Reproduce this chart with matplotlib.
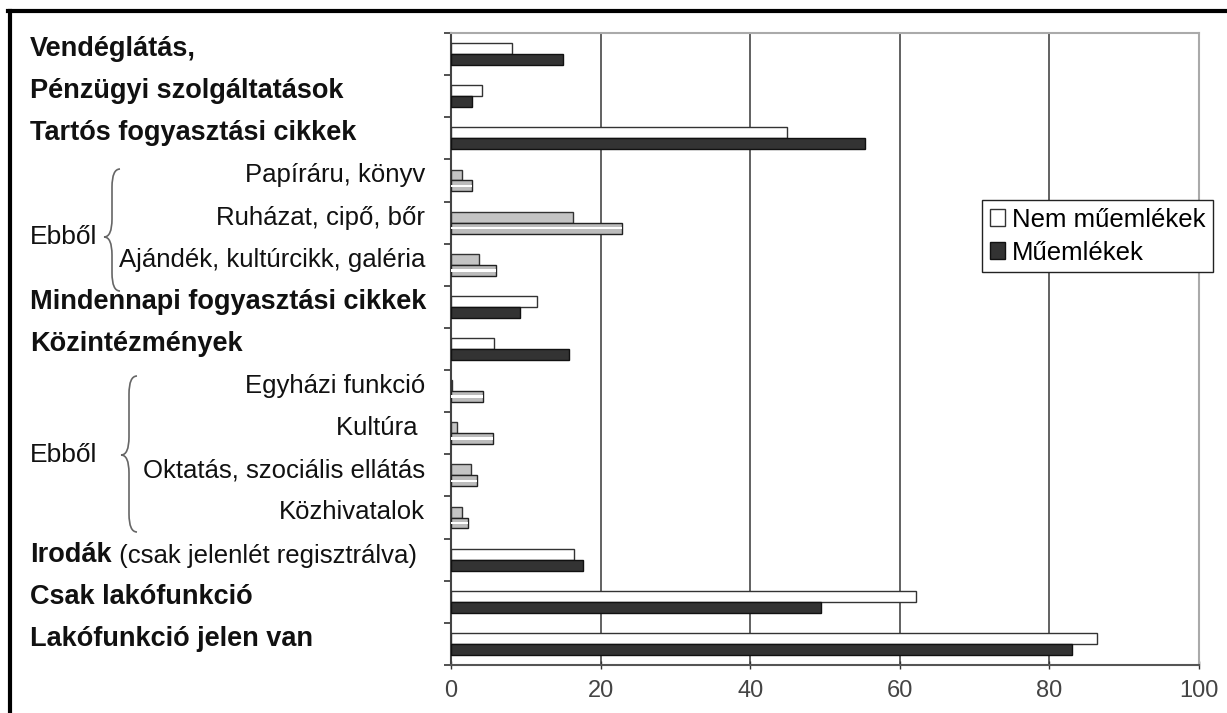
import numpy as np
import matplotlib
matplotlib.use('Agg')
from matplotlib import pyplot as plt
from matplotlib.path import Path
from matplotlib.patches import PathPatch, Patch
import matplotlib.transforms as mtransforms

plt.rcParams['font.family'] = ['Liberation Sans', 'DejaVu Sans']

# categories top to bottom
labels = ['Vendéglátás,', 'Pénzügyi szolgáltatások', 'Tartós fogyasztási cikkek',
          'Papíráru, könyv', 'Ruházat, cipő, bőr', 'Ajándék, kultúrcikk, galéria',
          'Mindennapi fogyasztási cikkek', 'Közintézmények',
          'Egyházi funkció', 'Kultúra ', 'Oktatás, szociális ellátás', 'Közhivatalok',
          'Irodák', 'Csak lakófunkció', 'Lakófunkció jelen van']
is_sub = [False, False, False, True, True, True, False, False,
          True, True, True, True, False, False, False]
nem_muemlek = [8.2, 4.1, 44.9, 1.5, 16.3, 3.7, 11.5, 5.7,
               0.2, 0.8, 2.7, 1.5, 16.4, 62.1, 86.3]
muemlek = [15.0, 2.8, 55.3, 2.8, 22.8, 6.0, 9.2, 15.8,
           4.3, 5.6, 3.5, 2.3, 17.6, 49.4, 83.0]
irodak_note = ' (csak jelenlét regisztrálva)'
brace_label = 'Ebből'
series_names = ['Nem műemlékek', 'Műemlékek']
xticks = [0, 20, 40, 60, 80, 100]

W, H = 1227, 713
fig = plt.figure(figsize=(W / 100, H / 100), dpi=100)
ax = fig.add_axes([451 / W, 1 - 665 / H, (1199 - 451) / W, (665 - 33) / H])

y = np.arange(len(labels))
h = 0.26
sub = np.array(is_sub)
main = ~sub
nem = np.array(nem_muemlek)
mu = np.array(muemlek)

# main categories
ax.barh(y[main] - h / 2, nem[main], h, color='white', edgecolor='#333333', lw=1, zorder=3)
ax.barh(y[main] + h / 2, mu[main], h, color='#333333', edgecolor='#111111', lw=1, zorder=3)
# "Ebből" sub categories
ax.barh(y[sub] - h / 2, nem[sub], h, color='#c4c4c4', edgecolor='#333333', lw=1, zorder=3)
ax.barh(y[sub] + h / 2, mu[sub], h, color='#bcbcbc', edgecolor='#222222', lw=1, zorder=3)
ax.barh(y[sub] + h / 2, mu[sub], h * 0.25, color='white', lw=0, zorder=4)

ax.set_xlim(0, 100)
ax.set_ylim(len(labels) - 0.5, -0.5)
ax.set_xticks(xticks)
ax.set_yticks(np.arange(len(labels) + 1) - 0.5)
ax.set_yticklabels([])
ax.tick_params(axis='y', direction='out', length=5, width=1.2, colors='#333333')
ax.tick_params(axis='x', direction='inout', length=6, width=1, colors='#333333',
               labelsize=17, labelcolor='#444444', pad=8)
for xv in xticks[1:-1]:
    ax.axvline(xv, color='#555555', lw=1.3, zorder=1)
ax.spines['left'].set_color('#444444')
ax.spines['bottom'].set_color('#555555')
ax.spines['top'].set_color('#aaaaaa')
ax.spines['right'].set_color('#aaaaaa')
for s in ax.spines.values():
    s.set_linewidth(1.5)

# category labels
trans = mtransforms.blended_transform_factory(fig.transFigure, ax.transData)
for i, lab in enumerate(labels):
    if is_sub[i]:
        fig.text(425 / W, i - 0.12, lab, transform=trans, ha='right', va='center',
                 fontsize=18.5, color='#111111')
    else:
        t = fig.text(30 / W, i - 0.12, lab, transform=trans, ha='left', va='center',
                     fontsize=19.5, fontweight='bold', color='#111111')
        if lab == 'Irodák':
            ax.annotate(irodak_note, xy=(1, 0), xycoords=t, ha='left', va='bottom',
                        fontsize=18.5, color='#111111', annotation_clip=False)


def brace(x_arm, x_mid, x_tip, y_top, y_tip, y_bot):
    r = 18
    pts = [(x_arm, y_top), (x_mid, y_top), (x_mid, y_top + r),
           (x_mid, y_tip - r), (x_mid, y_tip), (x_tip, y_tip),
           (x_mid, y_tip), (x_mid, y_tip + r),
           (x_mid, y_bot - r), (x_mid, y_bot), (x_arm, y_bot)]
    codes = [Path.MOVETO, Path.CURVE3, Path.CURVE3, Path.LINETO, Path.CURVE3, Path.CURVE3,
             Path.CURVE3, Path.CURVE3, Path.LINETO, Path.CURVE3, Path.CURVE3]
    pts = [(px / W, 1 - py / H) for px, py in pts]
    fig.add_artist(PathPatch(Path(pts, codes), transform=fig.transFigure,
                             fill=False, lw=1.2, edgecolor='#666666'))


brace(120, 112, 104, 169, 237, 291)
fig.text(30 / W, 1 - 237 / H, brace_label, ha='left', va='center', fontsize=19, color='#111111')
brace(137, 129, 121, 376, 455, 532)
fig.text(30 / W, 1 - 455 / H, brace_label, ha='left', va='center', fontsize=19, color='#111111')

handles = [Patch(facecolor='white', edgecolor='#333333'),
           Patch(facecolor='#333333', edgecolor='#111111')]
leg = fig.legend(handles, series_names, loc='upper left',
                 bbox_to_anchor=(982 / W, 1 - 200 / H), fontsize=18.5,
                 handlelength=0.6, handleheight=0.6, handletextpad=0.25,
                 borderpad=0.3, labelspacing=0.35, fancybox=False,
                 framealpha=1, edgecolor='#222222', borderaxespad=0)
leg.get_frame().set_linewidth(1)

# outer frame (left and top)
fig.add_artist(plt.Line2D([9.5 / W, 9.5 / W], [0, 1 - 10.5 / H], color='black', lw=3,
                          transform=fig.transFigure))
fig.add_artist(plt.Line2D([8 / W, 1], [1 - 10.5 / H, 1 - 10.5 / H], color='black', lw=3,
                          transform=fig.transFigure))

plt.savefig('out.png', dpi=100)
